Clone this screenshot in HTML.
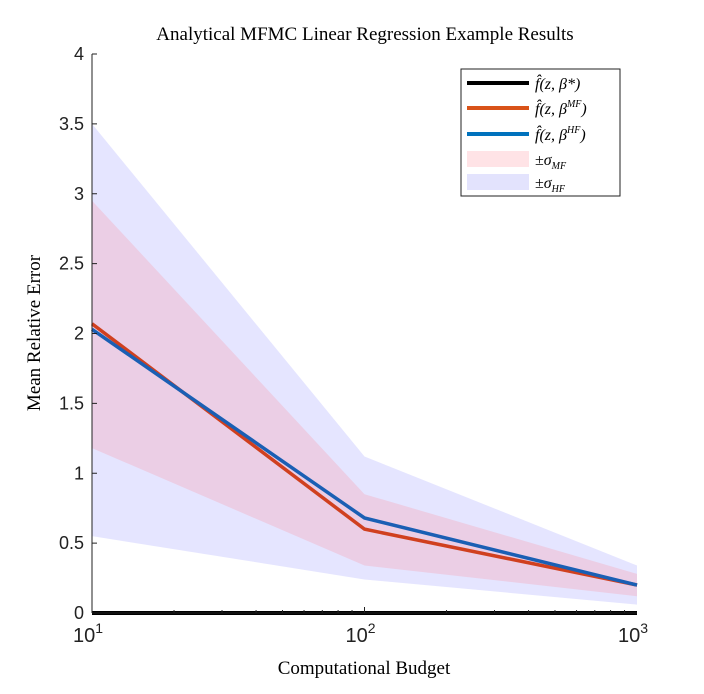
<!DOCTYPE html>
<html><head><meta charset="utf-8"><style>
body{margin:0;background:#fff;}
svg text{font-family:"Liberation Sans",sans-serif;}
.serif{font-family:"Liberation Serif",serif;}
</style></head><body>
<svg id="chart" width="704" height="689">
<g id="bands"></g><g id="lines"></g><g id="axes"></g>
<text class="serif" x="365" y="40" text-anchor="middle" font-size="19">Analytical MFMC Linear Regression Example Results</text>
<text class="serif" x="364" y="674" text-anchor="middle" font-size="19">Computational Budget</text>
<text class="serif" transform="translate(40,333) rotate(-90)" text-anchor="middle" font-size="19">Mean Relative Error</text>
<g>
<rect x="461" y="69" width="159" height="127" fill="#fff" stroke="#222" stroke-width="1"/>
<line x1="467" y1="83" x2="529" y2="83" stroke="#000" stroke-width="4"/>
<text class="serif" x="535" y="89" font-size="16" font-style="italic">f̂(z, β*)</text>
<line x1="467" y1="108" x2="529" y2="108" stroke="#d95319" stroke-width="4"/>
<text class="serif" x="535" y="114" font-size="16" font-style="italic">f̂(z, β<tspan font-size="10" dy="-7">MF</tspan><tspan dy="7">)</tspan></text>
<line x1="467" y1="134" x2="529" y2="134" stroke="#0072bd" stroke-width="4"/>
<text class="serif" x="535" y="140" font-size="16" font-style="italic">f̂(z, β<tspan font-size="10" dy="-7">HF</tspan><tspan dy="7">)</tspan></text>
<rect x="467" y="151" width="62" height="16" fill="#ffe3e6"/>
<text class="serif" x="535" y="165" font-size="16">±<tspan font-style="italic">σ</tspan><tspan font-size="10" dy="4" font-style="italic">MF</tspan></text>
<rect x="467" y="174" width="62" height="16" fill="#e3e3fd"/>
<text class="serif" x="535" y="188" font-size="16">±<tspan font-style="italic">σ</tspan><tspan font-size="10" dy="4" font-style="italic">HF</tspan></text>
</g>
</svg>
<script>
const budgets=[10,100,1000];
const hfMean=[2.03,0.68,0.20];
const mfMean=[2.07,0.60,0.20];
const hfUpper=[3.5,1.12,0.34];
const hfLower=[0.55,0.24,0.06];
const mfUpper=[2.95,0.85,0.28];
const mfLower=[1.18,0.34,0.12];
const trueVals=[0,0,0];
const yTicks=[0,0.5,1,1.5,2,2.5,3,3.5,4];
const yTickLabels=['0','0.5','1','1.5','2','2.5','3','3.5','4'];
const xTicks=[10,100,1000];
const xTickExp=['1','2','3'];

const X0=92,X1=637,Y0=613,Y1=54;
const sx=v=>X0+(Math.log10(v)-1)/2*(X1-X0);
const sy=v=>Y0-(v/4)*(Y0-Y1);
const NS='http://www.w3.org/2000/svg';
function mk(tag,attrs,parent){const e=document.createElementNS(NS,tag);for(const k in attrs)e.setAttribute(k,attrs[k]);document.getElementById(parent).appendChild(e);return e;}
function band(up,lo,fill){
  let pts=budgets.map((b,i)=>sx(b)+','+sy(up[i]));
  pts=pts.concat(budgets.map((b,i)=>sx(b)+','+sy(lo[i])).reverse());
  return mk('polygon',{points:pts.join(' '),fill:fill},'bands');
}
let b1=band(hfUpper,hfLower,'rgba(153,153,255,0.25)');


let b2=band(mfUpper,mfLower,'rgba(255,140,150,0.25)');


function line(vals,color,w){return mk('polyline',{points:budgets.map((b,i)=>sx(b)+','+sy(vals[i])).join(' '),fill:'none',stroke:color,'stroke-width':w},'lines');}
let l3=line(trueVals,'#000',4);


let l1=line(mfMean,'#d0401f',3.5);


let l2=line(hfMean,'#1a5fb4',3.5);


mk('line',{x1:X0,y1:Y1,x2:X0,y2:Y0,stroke:'#222','stroke-width':1},'axes');
mk('line',{x1:X0,y1:Y0,x2:X1,y2:Y0,stroke:'#222','stroke-width':1},'axes');
yTicks.forEach((t,i)=>{
  mk('line',{x1:X0,y1:sy(t),x2:X0+5,y2:sy(t),stroke:'#222'},'axes');
  const tx=mk('text',{x:X0-8,y:sy(t)+6,'text-anchor':'end','font-size':18,fill:'#222'},'axes');
  tx.textContent=yTickLabels[i];
  
  
});
for(let d=10;d<1000;d*=10){for(let m=1;m<10;m++){const v=d*m;const len=m===1?6:3;
  mk('line',{x1:sx(v),y1:Y0,x2:sx(v),y2:Y0-len,stroke:'#222'},'axes');}}
xTicks.forEach((t,i)=>{
  const tx=mk('text',{x:sx(t)-4,y:642,'text-anchor':'middle','font-size':20,fill:'#222'},'axes');
  tx.innerHTML='10<tspan font-size="14" dy="-9">'+xTickExp[i]+'</tspan>';
  
  
});
</script>
</body></html>
